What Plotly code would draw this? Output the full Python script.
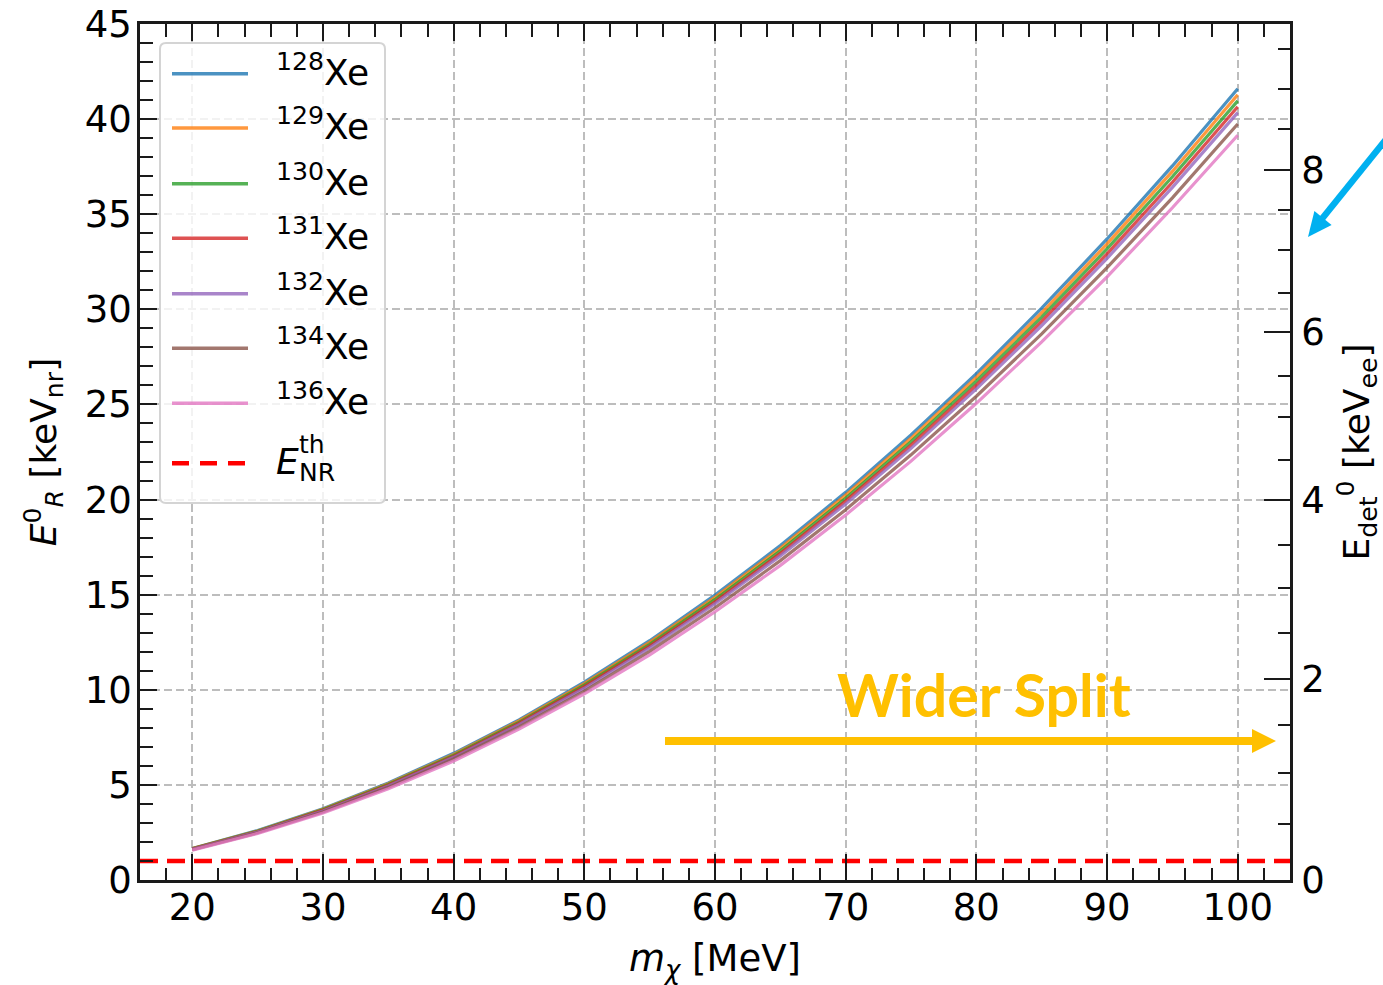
import plotly.graph_objects as go

# ---------------- data ----------------
m_chi = [20, 25, 30, 35, 40, 45, 50, 55, 60, 65, 70, 75, 80, 85, 90, 95, 100]

er_xe128 = [1.66, 2.60, 3.74, 5.10, 6.66, 8.42, 10.40, 12.58, 14.98, 17.58, 20.38, 23.40, 26.62, 30.06, 33.70, 37.54, 41.60]
er_xe129 = [1.65, 2.58, 3.72, 5.06, 6.60, 8.36, 10.32, 12.49, 14.86, 17.44, 20.23, 23.22, 26.42, 29.82, 33.44, 37.25, 41.28]
er_xe130 = [1.64, 2.56, 3.69, 5.02, 6.55, 8.29, 10.24, 12.39, 14.75, 17.31, 20.07, 23.04, 26.22, 29.59, 33.18, 36.97, 40.96]
er_xe131 = [1.63, 2.54, 3.66, 4.98, 6.50, 8.23, 10.16, 12.30, 14.63, 17.17, 19.92, 22.86, 26.01, 29.37, 32.92, 36.68, 40.65]
er_xe132 = [1.61, 2.52, 3.63, 4.94, 6.45, 8.17, 10.08, 12.20, 14.52, 17.04, 19.77, 22.69, 25.82, 29.15, 32.68, 36.41, 40.34]
er_xe134 = [1.59, 2.48, 3.58, 4.87, 6.36, 8.05, 9.93, 12.02, 14.31, 16.79, 19.47, 22.35, 25.43, 28.71, 32.19, 35.86, 39.74]
er_xe136 = [1.57, 2.45, 3.52, 4.80, 6.26, 7.93, 9.79, 11.84, 14.10, 16.54, 19.19, 22.02, 25.06, 28.29, 31.71, 35.34, 39.15]

isotopes = ["128", "129", "130", "131", "132", "134", "136"]
series = [er_xe128, er_xe129, er_xe130, er_xe131, er_xe132, er_xe134, er_xe136]
colors = ["#1f77b4", "#ff7f0e", "#2ca02c", "#d62728", "#9467bd", "#8c564b", "#e377c2"]

e_threshold = 1.0          # keVnr
x_range = [16, 104]
y_range = [0, 45]

x_major = [20, 30, 40, 50, 60, 70, 80, 90, 100]
y_major = [0, 5, 10, 15, 20, 25, 30, 35, 40, 45]

# right axis: E_det [keVee] ticks and the E_R [keVnr] positions they map to
edet_major_labels = ["0", "2", "4", "6", "8"]
edet_major_pos = [0.0, 10.57, 19.98, 28.81, 37.33]
edet_minor_pos = [2.94, 5.64, 8.15, 12.99, 15.35, 17.61, 22.08, 24.34, 26.50,
                  30.87, 33.12, 35.22, 39.47, 41.57, 43.67]

# ---------------- layout helpers ----------------
W, H = 1383, 985
L, R, T, B = 140, 1290, 24, 880
FONT = "DejaVu Sans"


def px(x):
    return (x - L) / (R - L)


def py(y):
    return (B - y) / (B - T)


fig = go.Figure()

for iso, ys, c in zip(isotopes, series, colors):
    fig.add_trace(go.Scatter(x=m_chi, y=ys, mode="lines", name=iso + "Xe",
                             line=dict(color=c, width=3.2), opacity=0.8,
                             showlegend=False, hoverinfo="skip"))

fig.add_trace(go.Scatter(x=x_range, y=[e_threshold, e_threshold], mode="lines",
                         line=dict(color="#ff0000", width=4.5, dash="18px,9px"),
                         showlegend=False, hoverinfo="skip"))

# dummy traces to activate overlay axes
fig.add_trace(go.Scatter(x=[None], y=[None], xaxis="x2", yaxis="y", showlegend=False))
fig.add_trace(go.Scatter(x=[None], y=[None], xaxis="x", yaxis="y2", showlegend=False))

grid_style = dict(showgrid=True, gridcolor="#bdbdbd", gridwidth=1.8, griddash="8px,4px")
axis_line = dict(showline=True, linecolor="#1a1a1a", linewidth=2.5, zeroline=False,
                 automargin=False)
tickfont = dict(family=FONT, size=37, color="black")

fig.update_layout(
    width=W, height=H, autosize=False,
    margin=dict(l=L, r=W - R, t=T, b=H - B, pad=0),
    plot_bgcolor="white", paper_bgcolor="white",
    font=dict(family=FONT, color="black"),
    showlegend=False,
    xaxis=dict(range=x_range, side="bottom", tickmode="array", tickvals=x_major,
               ticktext=[str(v) for v in x_major],
               ticks="inside", ticklen=26, tickwidth=2, tickcolor="#1a1a1a",
               minor=dict(dtick=2, tick0=0, ticks="inside", ticklen=12, tickwidth=2,
                          tickcolor="#1a1a1a", showgrid=False),
               tickfont=tickfont, ticklabelstandoff=-7,
               title=dict(text="<i>m</i><sub><i>χ</i></sub> [MeV]",
                          font=dict(family=FONT, size=37), standoff=21),
               **grid_style, **axis_line),
    xaxis2=dict(range=x_range, overlaying="x", side="top", anchor="y",
                tickmode="array", tickvals=x_major, showticklabels=False,
                ticks="inside", ticklen=17, tickwidth=2, tickcolor="#1a1a1a",
                minor=dict(dtick=2, tick0=0, ticks="inside", ticklen=13, tickwidth=2,
                           tickcolor="#1a1a1a", showgrid=False),
                showgrid=False, **axis_line),
    yaxis=dict(range=y_range, side="left", tickmode="array", tickvals=y_major,
               ticktext=[str(v) for v in y_major],
               ticks="inside", ticklen=17, tickwidth=2, tickcolor="#1a1a1a",
               minor=dict(dtick=1, tick0=0, ticks="inside", ticklen=13, tickwidth=2,
                          tickcolor="#1a1a1a", showgrid=False),
               tickfont=tickfont, ticklabelstandoff=-2,
               title=dict(text="<i>E</i><sup>0</sup><sub><i>R</i></sub> [keV<sub>nr</sub>]",
                          font=dict(family=FONT, size=36), standoff=18),
               **grid_style, **axis_line),
    yaxis2=dict(range=y_range, overlaying="y", side="right", anchor="x",
                tickmode="array", tickvals=edet_major_pos, ticktext=edet_major_labels,
                ticks="inside", ticklen=26, tickwidth=2, tickcolor="#1a1a1a",
                minor=dict(tickmode="array", tickvals=edet_minor_pos, ticks="inside",
                           ticklen=12, tickwidth=2, tickcolor="#1a1a1a", showgrid=False),
                tickfont=tickfont, ticklabelstandoff=1, showgrid=False,
                title=dict(text="E<sub>det</sub><sup>0</sup> [keV<sub>ee</sub>]",
                           font=dict(family=FONT, size=36), standoff=22),
                **axis_line),
)

shapes = []
annotations = []

# ---- legend box (rounded) ----
lx0, lx1, ly0, ly1, rr = 160, 385, 43, 503, 6
path = (f"M{px(lx0 + rr)},{py(ly0)} L{px(lx1 - rr)},{py(ly0)} "
        f"Q{px(lx1)},{py(ly0)} {px(lx1)},{py(ly0 + rr)} "
        f"L{px(lx1)},{py(ly1 - rr)} Q{px(lx1)},{py(ly1)} {px(lx1 - rr)},{py(ly1)} "
        f"L{px(lx0 + rr)},{py(ly1)} Q{px(lx0)},{py(ly1)} {px(lx0)},{py(ly1 - rr)} "
        f"L{px(lx0)},{py(ly0 + rr)} Q{px(lx0)},{py(ly0)} {px(lx0 + rr)},{py(ly0)} Z")
shapes.append(dict(type="path", xref="paper", yref="paper", path=path,
                   fillcolor="rgba(255,255,255,0.8)",
                   line=dict(color="#d4d4d4", width=2), layer="above"))

rows = [73.7, 128, 183.7, 238.3, 293.7, 348.3, 403.3]
for iso, c, yy in zip(isotopes, colors, rows):
    shapes.append(dict(type="line", xref="paper", yref="paper",
                       x0=px(172), x1=px(248), y0=py(yy), y1=py(yy),
                       line=dict(color=c, width=3.5), opacity=0.8, layer="above"))
    annotations.append(dict(xref="paper", yref="paper", x=px(274), y=py(yy - 4),
                            xanchor="left", yanchor="middle", showarrow=False,
                            text=f"<sup>{iso}</sup>Xe",
                            font=dict(family=FONT, size=36, color="black")))

yy = 463.3
shapes.append(dict(type="line", xref="paper", yref="paper",
                   x0=px(172), x1=px(248), y0=py(yy), y1=py(yy),
                   line=dict(color="#ff0000", width=4.5, dash="17px,11px"), layer="above"))
annotations.append(dict(xref="paper", yref="paper", x=px(274), y=py(461),
                        xanchor="left", yanchor="middle", showarrow=False,
                        text="<i>E</i>", font=dict(family=FONT, size=36, color="black")))
annotations.append(dict(xref="paper", yref="paper", x=px(297), y=py(445),
                        xanchor="left", yanchor="middle", showarrow=False,
                        text="th", font=dict(family=FONT, size=25, color="black")))
annotations.append(dict(xref="paper", yref="paper", x=px(297), y=py(472),
                        xanchor="left", yanchor="middle", showarrow=False,
                        text="NR", font=dict(family=FONT, size=25, color="black")))

# ---- "Wider Split" annotation and arrow ----
gold = "#FFC000"
annotations.append(dict(xref="paper", yref="paper", x=px(984), y=py(694),
                        xanchor="center", yanchor="middle", showarrow=False,
                        text="<b>Wider Split</b>",
                        font=dict(family="Lato", size=59, color=gold)))
shapes.append(dict(type="line", xref="paper", yref="paper",
                   x0=px(665), x1=px(1254), y0=py(741), y1=py(741),
                   line=dict(color=gold, width=8), layer="above"))
shapes.append(dict(type="path", xref="paper", yref="paper",
                   path=f"M{px(1252)},{py(729)} L{px(1276)},{py(741)} L{px(1252)},{py(753)} Z",
                   fillcolor=gold, line=dict(color=gold, width=0), layer="above"))

# ---- blue arrow at top right (cut by the border) ----
blue = "#00B0F0"
shapes.append(dict(type="line", xref="paper", yref="paper",
                   x0=px(1392), y0=py(132), x1=px(1321), y1=py(220),
                   line=dict(color=blue, width=6.5), layer="above"))
shapes.append(dict(type="path", xref="paper", yref="paper",
                   path=(f"M{px(1308)},{py(237)} L{px(1331.6)},{py(224.9)} "
                         f"L{px(1314.4)},{py(211.1)} Z"),
                   fillcolor=blue, line=dict(color=blue, width=0), layer="above"))

fig.update_layout(shapes=shapes, annotations=annotations)

fig.write_html("out.html")
